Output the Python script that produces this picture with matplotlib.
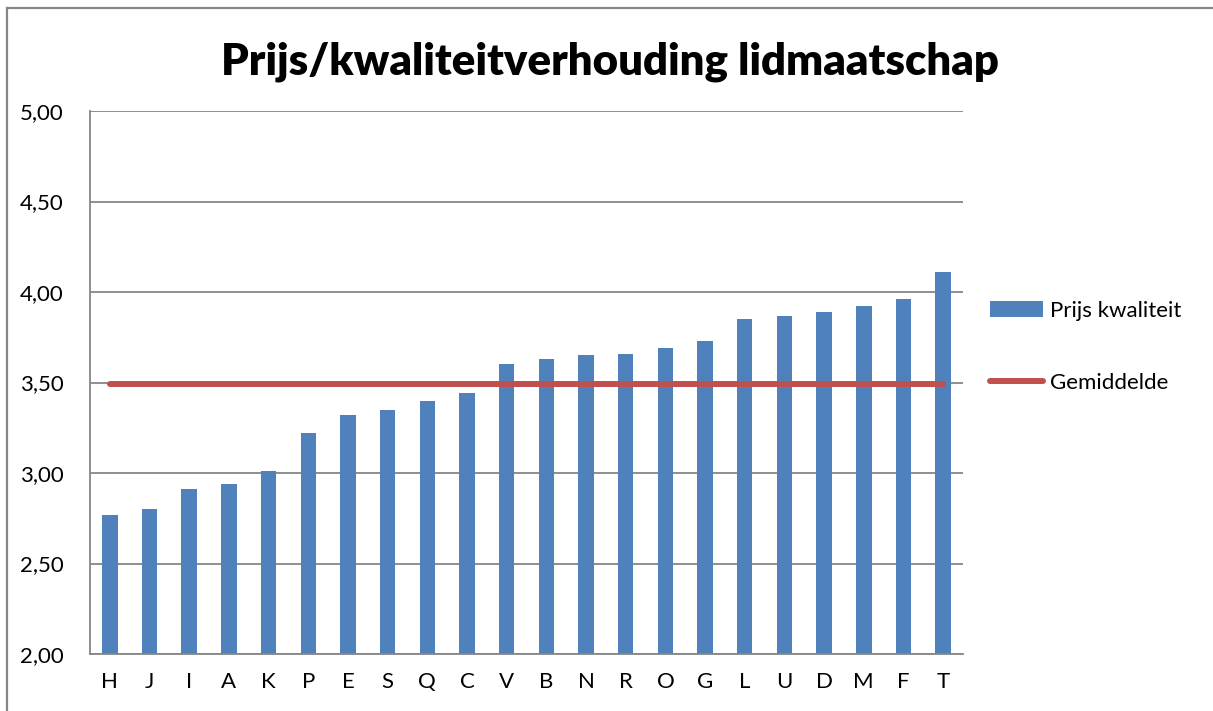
import matplotlib.pyplot as plt
from matplotlib.lines import Line2D

# Data
categorieen = ["H", "J", "I", "A", "K", "P", "E", "S", "Q", "C", "V",
               "B", "N", "R", "O", "G", "L", "U", "D", "M", "F", "T"]
prijs_kwaliteit = [2.77, 2.80, 2.91, 2.94, 3.01, 3.22, 3.32, 3.35, 3.40, 3.44, 3.60,
                   3.63, 3.65, 3.66, 3.69, 3.73, 3.85, 3.87, 3.89, 3.92, 3.96, 4.11]
gemiddelde = [3.49] * len(categorieen)
y_ticks = [2.0, 2.5, 3.0, 3.5, 4.0, 4.5, 5.0]
y_labels = ["2,00", "2,50", "3,00", "3,50", "4,00", "4,50", "5,00"]

plt.rcParams['font.family'] = ['Lato', 'DejaVu Sans']

blauw = '#4F81BD'
rood = '#C0504D'
grijs = '#868686'

fig = plt.figure(figsize=(12.13, 7.11), dpi=100)
ax = fig.add_axes([90 / 1213, 1 - 654 / 711, 873 / 1213, 543 / 711])

x = list(range(len(categorieen)))
bars = ax.bar(x, prijs_kwaliteit, width=0.39, color=blauw, label='Prijs kwaliteit', zorder=2)
lijn, = ax.plot(x, gemiddelde, color=rood, linewidth=4.3, solid_capstyle='round',
                label='Gemiddelde', zorder=3)

ax.set_xlim(-0.5, len(categorieen) - 0.5)
ax.set_ylim(2.0, 5.0)
ax.set_xticks(x)
ax.set_xticklabels(categorieen, fontsize=16)
ax.set_yticks(y_ticks)
ax.set_yticklabels(y_labels, fontsize=16)
ax.tick_params(axis='both', length=0)
ax.tick_params(axis='y', pad=19)
ax.tick_params(axis='x', pad=13)

ax.grid(axis='y', color=grijs, linewidth=1.3, zorder=0)
ax.set_axisbelow(True)
for side in ['top', 'right']:
    ax.spines[side].set_visible(False)
for side in ['left', 'bottom']:
    ax.spines[side].set_color(grijs)
    ax.spines[side].set_linewidth(1.3)

fig.text(0.503, 1 - 62 / 711, 'Prijs/kwaliteitverhouding lidmaatschap',
         fontsize=31.5, fontweight='heavy', ha='center', va='center')

fig.legend([bars, lijn], ['Prijs kwaliteit', 'Gemiddelde'],
           loc='center left', bbox_to_anchor=(970 / 1213, 1 - 347 / 711),
           frameon=False, fontsize=16, handlelength=2.4, handletextpad=0.3,
           labelspacing=2.35)

# chart frame
fig.add_artist(Line2D([7 / 1213, 7 / 1213], [0, 1 - 8 / 711], color=grijs, linewidth=1.6))
fig.add_artist(Line2D([7 / 1213, 1], [1 - 8 / 711, 1 - 8 / 711], color=grijs, linewidth=1.6))

fig.savefig('out.png', dpi=100)
